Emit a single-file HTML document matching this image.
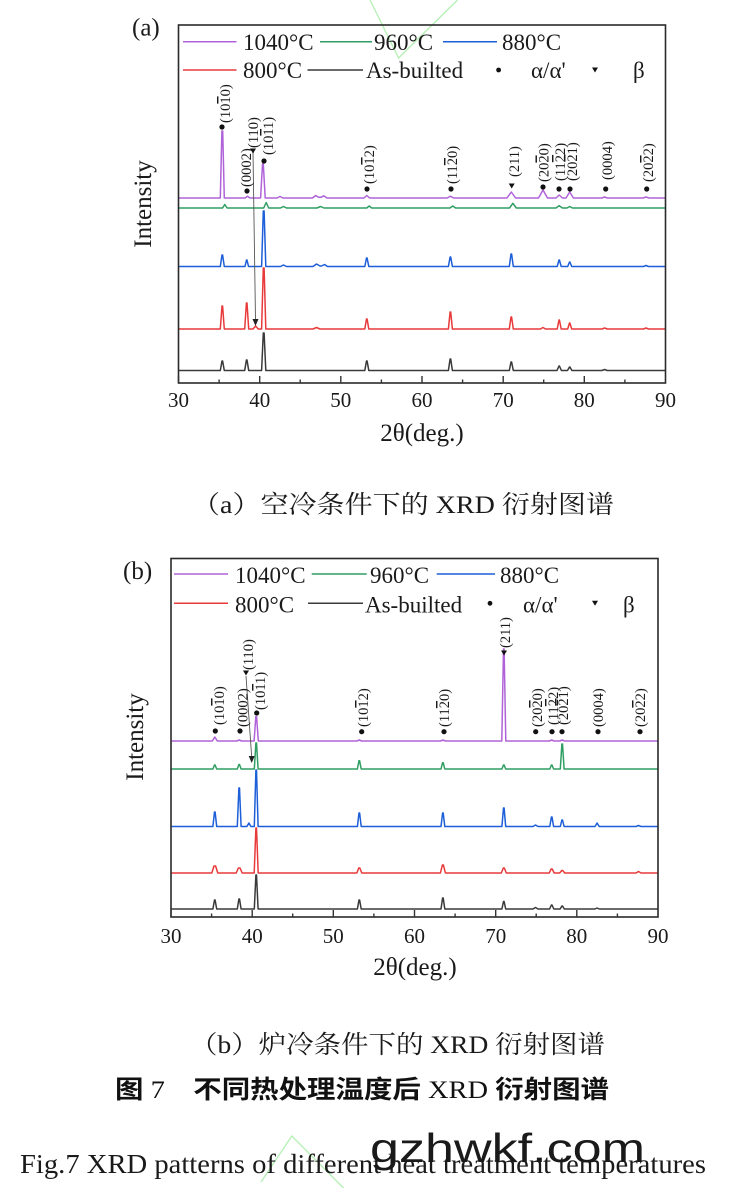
<!DOCTYPE html>
<html>
<head>
<meta charset="utf-8">
<style>
html,body{margin:0;padding:0;background:#fff;}
svg{display:block;}
.s{font-family:"Liberation Serif","Noto Serif CJK SC",serif;fill:#1a1a1a;}
.lb{font-family:"Liberation Serif",serif;font-size:14.5px;fill:#1a1a1a;}
.ov{text-decoration:overline;}
</style>
</head>
<body>
<svg width="738" height="1188" viewBox="0 0 738 1188" xmlns="http://www.w3.org/2000/svg">
<rect width="738" height="1188" fill="#fff"/>

<!-- faint watermark lines -->
<polyline points="370,0 398.6,58 457.5,0" fill="none" stroke="#b4f0b4" stroke-width="1.3"/>
<polyline points="261,1182 291.8,1136 343.5,1188" fill="none" stroke="#b4f0b4" stroke-width="1.3"/>

<!-- ================= PLOT (a) ================= -->
<text class="s" x="132" y="35.5" font-size="25">(a)</text>
<text class="s" font-size="25" transform="translate(151,204) rotate(-90)" text-anchor="middle">Intensity</text>

<g fill="none" stroke-width="1.5" stroke-linejoin="round">
<path stroke="#b063d8" d="M178.5,198 H220.3 L221.9,131 L222.7,131 L224.3,198 H245 L247.5,196.3 L250,198 H260.6 L262.5,164 L263.3,164 L265.2,198 H277 L280,196.5 L283,198 H312.5 L315.7,195.5 L318.5,197.3 L320.8,197.3 L323.8,195.8 L327,198 H364 L366.8,195.5 L369.6,198 H447 L450.4,196.3 L453.8,198 H507 L511.3,192 L515.6,198 H538.5 L543,190 L547.5,198 H556 L559.2,195 L562.4,198 H566 L569.7,192 L573.4,198 H602 L604.6,197 L607.2,198 H643 L646,197 L649,198 H665.5"/>
<path stroke="#2f9e62" d="M178.5,208 H222.5 L224.8,204.5 L227.1,208 H263.7 L266.2,202.5 L268.7,208 H280.5 L283.5,206.5 L286.5,208 H317 L320.6,206.5 L324,208 H366.7 L369.2,206 L371.7,208 H450 L452.8,206 L455.6,208 H509.5 L512.9,203.3 L516.3,208 H556 L559.2,205.7 L562.4,208 H567 L569.7,206.5 L572.4,208 H665.5"/>
<path stroke="#1d5fd9" d="M178.5,266.5 H220.3 L222,255 L222.6,255 L224.3,266.5 H245 L246.5,260 L247,260 L248.5,266.5 H261.6 L263.3,211 L264.1,211 L265.8,266.5 H280.5 L283.5,265 L286.5,266.5 H313 L316.5,264 L320,266 L321.5,266 L324.6,264.5 L327.5,266.5 H364.8 L366.5,258 L367.1,258 L368.8,266.5 H448.4 L450.1,257 L450.7,257 L452.4,266.5 H509.3 L511,254 L511.6,254 L513.3,266.5 H557.2 L559,260 L559.4,260 L561.2,266.5 H567.7 L569.5,262 L569.9,262 L571.7,266.5 H643.5 L646,265.5 L648.5,266.5 H665.5"/>
<path stroke="#e83a3a" d="M178.5,329 H220.3 L222,306 L222.6,306 L224.3,329 H244.7 L246.4,303 L247,303 L248.7,329 H253 L255.6,326 L258.2,329 H261.6 L263.3,268 L264.1,268 L265.8,329 H313 L316.5,327.5 L320,329 H364.8 L366.5,319 L367.1,319 L368.8,329 H448.4 L450.1,312 L450.7,312 L452.4,329 H509.3 L511,317 L511.6,317 L513.3,329 H540.5 L543,327.5 L545.5,329 H557.2 L559,320 L559.4,320 L561.2,329 H567.7 L569.5,323 L569.9,323 L571.7,329 H602 L604.6,328 L607.2,329 H643.5 L646,328 L648.5,329 H665.5"/>
<path stroke="#3a3a3a" d="M178.5,370.5 H220.3 L222,361 L222.6,361 L224.3,370.5 H244.7 L246.4,360 L247,360 L248.7,370.5 H261.6 L263.3,333 L264.1,333 L265.8,370.5 H364.8 L366.5,361 L367.1,361 L368.8,370.5 H448.4 L450.1,359 L450.7,359 L452.4,370.5 H509.3 L511,362 L511.6,362 L513.3,370.5 H557 L559,366 L559.4,366 L561.4,370.5 H567.5 L569.5,367 L569.9,367 L571.9,370.5 H602 L604.6,369.5 L607.2,370.5 H665.5"/>
</g>

<!-- arrow (a) -->
<line x1="253" y1="152" x2="255.5" y2="320" stroke="#555" stroke-width="0.9"/>
<polygon points="252.5,319 258.5,319 255.5,326" fill="#222"/>

<!-- frame (a) -->
<rect x="178.5" y="25" width="487" height="358" fill="none" stroke="#2a2a2a" stroke-width="1.6"/>
<g stroke="#333" stroke-width="1.4">
<line x1="178.5" y1="383" x2="178.5" y2="376"/>
<line x1="259.7" y1="383" x2="259.7" y2="376"/>
<line x1="340.8" y1="383" x2="340.8" y2="376"/>
<line x1="422" y1="383" x2="422" y2="376"/>
<line x1="503.2" y1="383" x2="503.2" y2="376"/>
<line x1="584.3" y1="383" x2="584.3" y2="376"/>
<line x1="219.1" y1="383" x2="219.1" y2="379.5"/>
<line x1="300.2" y1="383" x2="300.2" y2="379.5"/>
<line x1="381.4" y1="383" x2="381.4" y2="379.5"/>
<line x1="462.6" y1="383" x2="462.6" y2="379.5"/>
<line x1="543.7" y1="383" x2="543.7" y2="379.5"/>
<line x1="624.9" y1="383" x2="624.9" y2="379.5"/>
</g>
<g class="s" font-size="21" text-anchor="middle">
<text x="178.5" y="407">30</text><text x="259.7" y="407">40</text><text x="340.8" y="407">50</text>
<text x="422" y="407">60</text><text x="503.2" y="407">70</text><text x="584.3" y="407">80</text><text x="665.5" y="407">90</text>
</g>
<text class="s" x="422" y="441" font-size="25" text-anchor="middle">2θ(deg.)</text>

<!-- legend (a) -->
<g stroke-width="1.5">
<line x1="183" y1="41.7" x2="236.5" y2="41.7" stroke="#b063d8"/>
<line x1="320" y1="41.7" x2="372" y2="41.7" stroke="#2f9e62"/>
<line x1="443" y1="41.7" x2="497" y2="41.7" stroke="#1d5fd9"/>
<line x1="183" y1="70" x2="236.5" y2="70" stroke="#e83a3a"/>
<line x1="307.5" y1="70" x2="363" y2="70" stroke="#3a3a3a"/>
</g>
<g class="s" font-size="23">
<text x="243" y="50">1040°C</text>
<text x="374" y="50">960°C</text>
<text x="502" y="50">880°C</text>
<text x="243" y="78">800°C</text>
<text x="366" y="78">As-builted</text>
<text x="531" y="78">α/α'</text>
<text x="633" y="78">β</text>
</g>
<circle cx="498.6" cy="70" r="2.4" fill="#111"/>
<polygon points="592,67.5 598,67.5 595,72.5" fill="#111"/>

<!-- markers (a) -->
<g fill="#111">
<circle cx="222" cy="127" r="2.6"/>
<circle cx="247" cy="191" r="2.6"/>
<polygon points="250,148.5 256,148.5 253,153.5"/>
<circle cx="264" cy="161" r="2.6"/>
<circle cx="367" cy="189" r="2.6"/>
<circle cx="451" cy="189" r="2.6"/>
<polygon points="508.7,183.5 514.7,183.5 511.7,188.5"/>
<circle cx="543" cy="187" r="2.6"/>
<circle cx="559" cy="189" r="2.6"/>
<circle cx="570" cy="189" r="2.6"/>
<circle cx="605.7" cy="189" r="2.6"/>
<circle cx="646.7" cy="189" r="2.6"/>
</g>
<!-- labels (a) -->
<g class="lb">
<text transform="translate(230,123) rotate(-90)">(10<tspan class="ov">1</tspan>0)</text>
<text transform="translate(251,187) rotate(-90)">(0002)</text>
<text transform="translate(258,148) rotate(-90)">(110)</text>
<text transform="translate(273,155) rotate(-90)">(10<tspan class="ov">1</tspan>1)</text>
<text transform="translate(374,184) rotate(-90)">(10<tspan class="ov">1</tspan>2)</text>
<text transform="translate(457,184) rotate(-90)">(11<tspan class="ov">2</tspan>0)</text>
<text transform="translate(519,177) rotate(-90)">(211)</text>
<text transform="translate(548.5,182) rotate(-90)">(20<tspan class="ov">2</tspan>0)</text>
<text transform="translate(565,181) rotate(-90)">(11<tspan class="ov">2</tspan>2)</text>
<text transform="translate(577,181) rotate(-90)">(20<tspan class="ov">2</tspan>1)</text>
<text transform="translate(612,180) rotate(-90)">(0004)</text>
<text transform="translate(653,182) rotate(-90)">(20<tspan class="ov">2</tspan>2)</text>
</g>

<!-- caption (a) -->
<text class="s" x="192" y="513" font-size="25" textLength="422" lengthAdjust="spacingAndGlyphs">（a）空冷条件下的 XRD 衍射图谱</text>

<!-- ================= PLOT (b) ================= -->
<text class="s" x="123" y="579" font-size="25">(b)</text>
<text class="s" font-size="25" transform="translate(143,737) rotate(-90)" text-anchor="middle">Intensity</text>

<g fill="none" stroke-width="1.5" stroke-linejoin="round">
<path stroke="#b063d8" d="M171,741 H212.3 L214.8,737 L217.3,741 H236.9 L239.2,740 L241.5,741 H254.1 L255.8,716.7 L256.6,716.7 L258.3,741 H357 L359.3,740 L361.6,741 H440.6 L442.9,740 L445.2,741 H501.8 L503.5,649 L504.1,649 L505.8,741 H549.4 L551.7,740 L554,741 H559.9 L562.2,740 L564.5,741 H658"/>
<path stroke="#2f9e62" d="M171,769 H212.9 L214.5,765 L215.1,765 L216.7,769 H237.3 L238.9,764.5 L239.5,764.5 L241.1,769 H254.3 L255.9,743 L256.5,743 L258.1,769 H357.4 L359,760.7 L359.6,760.7 L361.2,769 H441 L442.6,762.7 L443.2,762.7 L444.8,769 H501.9 L503.5,765 L504.1,765 L505.7,769 H549.8 L551.4,765 L552,765 L553.6,769 H560.3 L561.9,744 L562.5,744 L564.1,769 H658"/>
<path stroke="#1d5fd9" d="M171,826.5 H212.9 L214.5,812 L215.1,812 L216.7,826.5 H237.3 L238.9,788 L239.5,788 L241.1,826.5 H246.9 L248.9,823 L250.9,826.5 H254.3 L255.9,770 L256.5,770 L258.1,826.5 H357.4 L359,813 L359.6,813 L361.2,826.5 H441 L442.6,813 L443.2,813 L444.8,826.5 H501.9 L503.5,808 L504.1,808 L505.7,826.5 H533 L535.5,825 L538,826.5 H549.8 L551.4,817 L552,817 L553.6,826.5 H560.3 L561.9,820 L562.5,820 L564.1,826.5 H595 L597.1,823 L599.2,826.5 H636 L638.5,825.5 L641,826.5 H658"/>
<path stroke="#e83a3a" d="M171,873 H211.8 L214,866 L215.6,866 L217.8,873 H236.2 L238.4,868 L240,868 L242.2,873 H254.2 L255.9,828 L256.5,828 L258.2,873 H356.8 L358.8,868 L359.8,868 L361.8,873 H440.4 L442.4,865 L443.4,865 L445.4,873 H501.3 L503.3,868 L504.3,868 L506.3,873 H549.2 L551.2,869 L552.2,869 L554.2,873 H559.7 L561.7,870.5 L562.7,870.5 L564.7,873 H636 L638.5,871.5 L641,873 H658"/>
<path stroke="#3a3a3a" d="M171,909 H212.9 L214.5,900 L215.1,900 L216.7,909 H237.3 L238.9,899 L239.5,899 L241.1,909 H254.3 L255.9,875 L256.5,875 L258.1,909 H357.4 L359,900 L359.6,900 L361.2,909 H441 L442.6,898 L443.2,898 L444.8,909 H501.9 L503.5,901.5 L504.1,901.5 L505.7,909 H533 L535.5,907.5 L538,909 H549.6 L551.4,905 L552,905 L553.8,909 H560.1 L561.9,906 L562.5,906 L564.3,909 H595 L597.1,908 L599.2,909 H658"/>
</g>

<!-- arrow (b) -->
<line x1="246" y1="676" x2="251.7" y2="757" stroke="#555" stroke-width="0.9"/>
<polygon points="248.7,756 254.7,756 251.7,763" fill="#222"/>

<!-- frame (b) -->
<rect x="171" y="558.5" width="487" height="358.5" fill="none" stroke="#2a2a2a" stroke-width="1.6"/>
<g stroke="#333" stroke-width="1.4">
<line x1="171" y1="917" x2="171" y2="910"/>
<line x1="252.2" y1="917" x2="252.2" y2="910"/>
<line x1="333.3" y1="917" x2="333.3" y2="910"/>
<line x1="414.5" y1="917" x2="414.5" y2="910"/>
<line x1="495.7" y1="917" x2="495.7" y2="910"/>
<line x1="576.8" y1="917" x2="576.8" y2="910"/>
<line x1="211.6" y1="917" x2="211.6" y2="913.5"/>
<line x1="292.7" y1="917" x2="292.7" y2="913.5"/>
<line x1="373.9" y1="917" x2="373.9" y2="913.5"/>
<line x1="455.1" y1="917" x2="455.1" y2="913.5"/>
<line x1="536.2" y1="917" x2="536.2" y2="913.5"/>
<line x1="617.4" y1="917" x2="617.4" y2="913.5"/>
</g>
<g class="s" font-size="21" text-anchor="middle">
<text x="171" y="943">30</text><text x="252.2" y="943">40</text><text x="333.3" y="943">50</text>
<text x="414.5" y="943">60</text><text x="495.7" y="943">70</text><text x="576.8" y="943">80</text><text x="658" y="943">90</text>
</g>
<text class="s" x="415" y="975" font-size="25" text-anchor="middle">2θ(deg.)</text>

<!-- legend (b) -->
<g stroke-width="1.5">
<line x1="174" y1="574" x2="228" y2="574" stroke="#b063d8"/>
<line x1="311.7" y1="574" x2="366.7" y2="574" stroke="#2f9e62"/>
<line x1="436.7" y1="574" x2="495" y2="574" stroke="#1d5fd9"/>
<line x1="174" y1="603.3" x2="228" y2="603.3" stroke="#e83a3a"/>
<line x1="308" y1="603.3" x2="363" y2="603.3" stroke="#3a3a3a"/>
</g>
<g class="s" font-size="23">
<text x="235" y="583">1040°C</text>
<text x="370" y="583">960°C</text>
<text x="500" y="583">880°C</text>
<text x="235" y="612.5">800°C</text>
<text x="365" y="612.5">As-builted</text>
<text x="523" y="612.5">α/α'</text>
<text x="623" y="612.5">β</text>
</g>
<circle cx="490" cy="603.3" r="2.4" fill="#111"/>
<polygon points="592,600.8 598,600.8 595,605.8" fill="#111"/>

<!-- markers (b) -->
<g fill="#111">
<circle cx="215.3" cy="731" r="2.6"/>
<circle cx="240" cy="731" r="2.6"/>
<polygon points="243,670.5 249,670.5 246,675.5"/>
<circle cx="256.7" cy="713" r="2.6"/>
<circle cx="361.7" cy="731.7" r="2.6"/>
<circle cx="444" cy="731.7" r="2.6"/>
<polygon points="501,650.5 507,650.5 504,655.5"/>
<circle cx="535.7" cy="731.7" r="2.6"/>
<circle cx="552" cy="731.7" r="2.6"/>
<circle cx="562" cy="731.7" r="2.6"/>
<circle cx="598" cy="731.7" r="2.6"/>
<circle cx="640" cy="731.7" r="2.6"/>
</g>
<!-- labels (b) -->
<g class="lb">
<text transform="translate(224,725) rotate(-90)">(10<tspan class="ov">1</tspan>0)</text>
<text transform="translate(247.7,727) rotate(-90)">(0002)</text>
<text transform="translate(253,670) rotate(-90)">(110)</text>
<text transform="translate(265,710) rotate(-90)">(10<tspan class="ov">1</tspan>1)</text>
<text transform="translate(368,727) rotate(-90)">(10<tspan class="ov">1</tspan>2)</text>
<text transform="translate(449,727) rotate(-90)">(11<tspan class="ov">2</tspan>0)</text>
<text transform="translate(510,648) rotate(-90)">(211)</text>
<text transform="translate(542,727) rotate(-90)">(20<tspan class="ov">2</tspan>0)</text>
<text transform="translate(558,725) rotate(-90)">(11<tspan class="ov">2</tspan>2)</text>
<text transform="translate(568,725) rotate(-90)">(20<tspan class="ov">2</tspan>1)</text>
<text transform="translate(603,727) rotate(-90)">(0004)</text>
<text transform="translate(645,727) rotate(-90)">(20<tspan class="ov">2</tspan>2)</text>
</g>

<!-- captions -->
<text class="s" x="190" y="1053" font-size="25" textLength="415" lengthAdjust="spacingAndGlyphs">（b）炉冷条件下的 XRD 衍射图谱</text>
<text x="115" y="1098" font-size="25" textLength="494" lengthAdjust="spacingAndGlyphs" fill="#111"><tspan font-family="'Noto Sans CJK SC',sans-serif" font-weight="bold">图</tspan><tspan font-family="'Liberation Serif',serif"> 7　</tspan><tspan font-family="'Noto Sans CJK SC',sans-serif" font-weight="bold">不同热处理温度后</tspan><tspan font-family="'Liberation Serif',serif"> XRD </tspan><tspan font-family="'Noto Sans CJK SC',sans-serif" font-weight="bold">衍射图谱</tspan></text>
<text class="s" x="20" y="1173" font-size="27" textLength="686" lengthAdjust="spacingAndGlyphs">Fig.7 XRD patterns of different heat treatment temperatures</text>

<!-- watermark -->
<text x="370" y="1162" font-family="'Liberation Sans',sans-serif" font-size="41" fill="#1a1a1a" textLength="275" lengthAdjust="spacingAndGlyphs">gzhwkf.com</text>
</svg>
</body>
</html>
